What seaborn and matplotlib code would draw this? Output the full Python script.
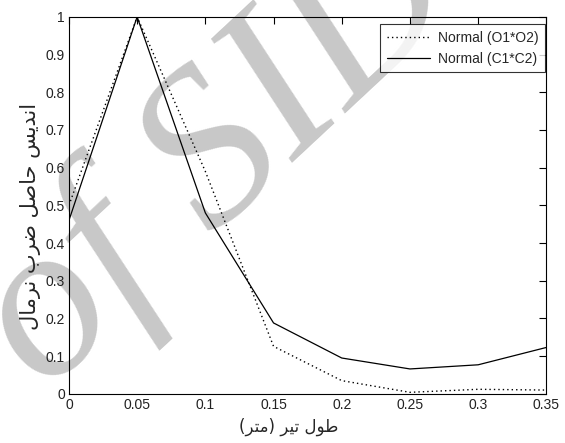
import numpy as np
import pandas as pd
import matplotlib
matplotlib.use("Agg")
import matplotlib.pyplot as plt
import seaborn as sns

# beam length (m) and normalised product indices
beam_length = [0.0, 0.05, 0.10, 0.15, 0.20, 0.25, 0.30, 0.35]
normal_o1o2 = [0.50, 1.00, 0.59, 0.126, 0.035, 0.004, 0.012, 0.010]
normal_c1c2 = [0.46, 1.00, 0.48, 0.188, 0.095, 0.066, 0.077, 0.123]
series_names = ["Normal (O1*O2)", "Normal (C1*C2)"]

x_ticks = [0, 0.05, 0.1, 0.15, 0.2, 0.25, 0.3, 0.35]
x_tick_labels = ["0", "0.05", "0.1", "0.15", "0.2", "0.25", "0.3", "0.35"]
y_ticks = [0, 0.1, 0.2, 0.3, 0.4, 0.5, 0.6, 0.7, 0.8, 0.9, 1]
y_tick_labels = ["0", "0.1", "0.2", "0.3", "0.4", "0.5", "0.6", "0.7", "0.8", "0.9", "1"]

# Persian labels written in shaped (presentation) forms, visual order
x_label = "(\uFEAE\uFE98\uFEE3) \uFEAE\uFEF4\uFE97 \uFEDD\uFEEE\uFEC3"          # طول تیر (متر)
y_label = ("\uFEDD\uFE8E\uFEE3\uFEAE\uFEE7 "
           "\uFE8F\uFEAE\uFEBF \uFEDE\uFEBB\uFE8E\uFEA3 "
           "\uFEB2\uFEF3\uFEAA\uFEE7\uFE8D")                                      # اندیس حاصل ضرب نرمال

df = pd.DataFrame({
    "length": beam_length * 2,
    "value": normal_o1o2 + normal_c1c2,
    "series": [series_names[0]] * len(beam_length) + [series_names[1]] * len(beam_length),
})

sns.set_style("white")
plt.rcParams["font.family"] = ["Liberation Sans", "DejaVu Sans"]

fig = plt.figure(figsize=(5.65, 4.43), dpi=100)
ax = fig.add_axes([0.122, 0.111, 0.845, 0.851])

sns.lineplot(data=df[df.series == series_names[0]], x="length", y="value",
             color="black", linewidth=1.0, linestyle=(0, (1, 2.2)),
             label=series_names[0], ax=ax, zorder=3)
sns.lineplot(data=df[df.series == series_names[1]], x="length", y="value",
             color="black", linewidth=0.9, linestyle="-",
             label=series_names[1], ax=ax, zorder=3)

ax.set_xlim(0, 0.35)
ax.set_ylim(0, 1)
ax.set_xticks(x_ticks)
ax.set_xticklabels(x_tick_labels)
ax.set_yticks(y_ticks)
ax.set_yticklabels(y_tick_labels)
ax.tick_params(direction="in", length=5, width=0.8, top=True, right=True,
               labelsize=10, colors="black", labelcolor="#222222", pad=3)
for side in ax.spines.values():
    side.set_visible(True)
    side.set_color("black")
    side.set_linewidth(0.8)

ax.set_xlabel(x_label, fontsize=12, family=["DejaVu Sans"])
ax.xaxis.set_label_coords(0.46, -0.062)
ax.set_ylabel(y_label, fontsize=15, family=["DejaVu Sans"])
ax.yaxis.set_label_coords(-0.058, 0.47)

leg = ax.legend(loc="upper right", bbox_to_anchor=(0.998, 0.982), fontsize=10,
                frameon=True, fancybox=False, borderaxespad=0.0,
                handlelength=3.1, handletextpad=0.55, borderpad=0.5,
                labelspacing=0.5)
leg.get_frame().set_edgecolor("black")
leg.get_frame().set_linewidth(0.8)

# archive stamp across the figure
ax.text(-0.05, 0.0, "of SID", transform=ax.transAxes, rotation=43,
        rotation_mode="anchor", fontsize=160, family="Liberation Serif",
        style="italic", color="#c8c8c8", ha="left", va="baseline",
        zorder=0.5, clip_on=False)

fig.savefig("out.png", dpi=100, facecolor="white")
